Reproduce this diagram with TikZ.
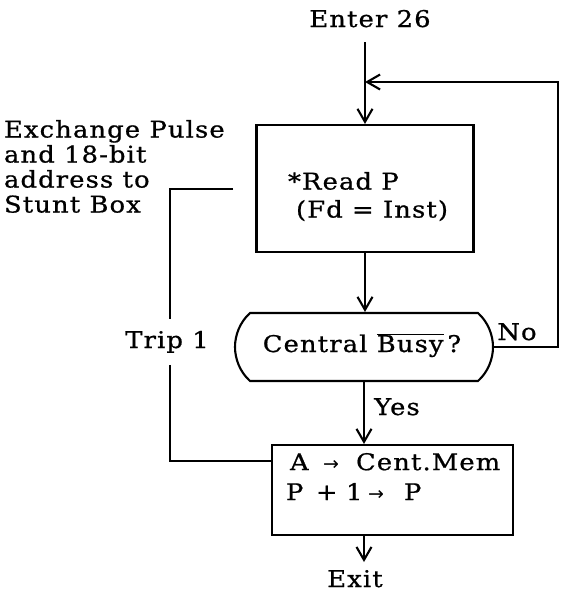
\documentclass[tikz,border=0pt]{standalone}
\usepackage{fontspec}
\setmainfont{DejaVu Serif}[LetterSpace=5,FakeStretch=1.12,FakeBold=0.8]
\newfontfamily\arrowfont{DejaVu Sans}
\usetikzlibrary{arrows.meta}
\newcommand{\myarrow}{{\arrowfont\fontsize{19}{19}\selectfont →}}
\begin{document}
\begin{tikzpicture}[x=1pt,y=-1pt,
  font=\fontsize{23}{25}\selectfont,
  line width=2.1pt,
  arr/.style={-{Straight Barb[length=13pt,width=15pt,line width=2.1pt]}},
  box/.style={draw, inner sep=0pt},
  txt/.style={inner sep=0pt}]
\useasboundingbox (0,0) rectangle (560,592);
% nodes
\node[txt, anchor=base] (enter) at (370,27) {Enter 26};
\coordinate (entertop) at (365,42);
\coordinate (join) at (365,82);
\node[box, minimum width=217pt, minimum height=127pt] (read) at (365,188.5) {};
\node[txt, anchor=north west, align=left] (readtxt) at (287,171) {*Read P\\[3pt]\hspace*{8pt}(Fd = Inst)};
\node[inner sep=0pt, minimum width=258pt, minimum height=68pt] (dec) at (364,347) {};
\draw[shift={(dec.center)}] (-114,-34) -- (114,-34)
  .. controls (124,-25) and (129,-12) .. (129,0)
  .. controls (129,12) and (124,25) .. (114,34)
  -- (-114,34)
  .. controls (-124,25) and (-129,12) .. (-129,0)
  .. controls (-129,-12) and (-124,-25) .. cycle;
\node[txt, anchor=base] (dectxt) at (362,352) {Central $\overline{\hbox{Busy}}$\,?};
\node[box, minimum width=241pt, minimum height=90pt] (act) at (392.5,490) {};
\node[txt, anchor=north west, align=left] (acttxt) at (285,452)
  {\hspace*{4pt}\makebox[33pt][l]{A}\makebox[33pt][l]{\myarrow}Cent.Mem\\[5pt]%
   \makebox[30pt][l]{P}\makebox[30pt][l]{+}\makebox[22pt][l]{1}\makebox[36pt][l]{\myarrow}P};
\node[txt, anchor=base] (exit) at (355,587) {Exit};
\node[txt, anchor=base] (yes) at (397,415) {Yes};
\node[txt, anchor=base] (no) at (517,340) {No};
\node[inner xsep=0pt, inner ysep=11pt, anchor=base] (trip) at (167,348) {Trip 1};
\node[txt, anchor=north west, align=left] (stunt) at (3,119) {Exchange Pulse\\and 18-bit\\address to\\Stunt Box};
\coordinate (stuntend) at (233,189);
% connectors
\draw[arr] (entertop) -- (read.north);
\draw[arr] (read.south) -- (read.south |- dec.north);
\draw[arr] (dec.south) -- (dec.south |- act.north);
\draw[arr, shorten >=7pt] (dec.south |- act.south) -- (dec.south |- exit.north);
\draw[arr] (dec.east) -- ++(64,0) |- (join);
\draw (stuntend) -| ([xshift=3pt]trip.north);
\draw ([xshift=3pt]trip.south) |- ([yshift=29pt]act.west);
\end{tikzpicture}
\end{document}
